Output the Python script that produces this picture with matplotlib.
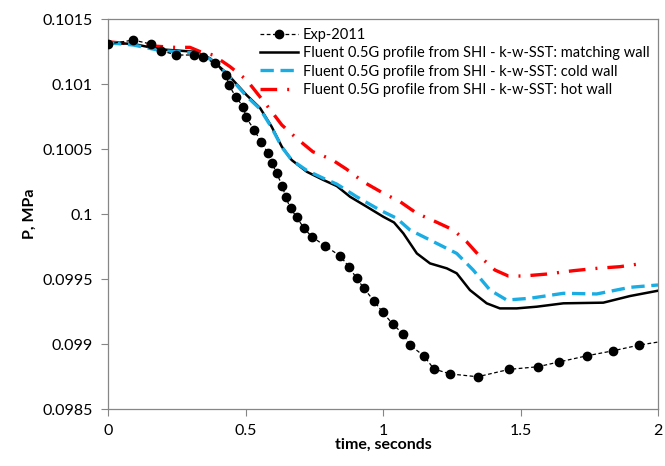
import numpy as np
import matplotlib
matplotlib.use('Agg')
import matplotlib.pyplot as plt

plt.rcParams['font.family'] = ['Lato', 'DejaVu Sans']

# experimental points (time s, pressure MPa)
exp_t = [0.0, 0.092, 0.155, 0.193, 0.248, 0.312, 0.347, 0.389, 0.429, 0.44, 0.464,
         0.492, 0.502, 0.532, 0.556, 0.581, 0.597, 0.613, 0.634, 0.646, 0.664,
         0.686, 0.713, 0.741, 0.789, 0.844, 0.876, 0.904, 0.931, 0.967, 0.999,
         1.035, 1.074, 1.098, 1.149, 1.185, 1.244, 1.344, 1.459, 1.563, 1.64,
         1.743, 1.837, 1.932, 2.0]
exp_p = [0.101308, 0.101338, 0.101308, 0.101256, 0.101223, 0.101223, 0.101205,
         0.101159, 0.101069, 0.100992, 0.100902, 0.100825, 0.100744, 0.100646,
         0.100556, 0.100472, 0.10039, 0.100313, 0.100218, 0.100128, 0.100044,
         0.099975, 0.09989, 0.099825, 0.099756, 0.099677, 0.099595, 0.099505,
         0.099428, 0.099331, 0.099244, 0.099154, 0.099075, 0.098992, 0.098908,
         0.098808, 0.09877, 0.098748, 0.098805, 0.098825, 0.098862, 0.09891,
         0.098948, 0.098992, 0.099015]

# matching wall
match_t = [0.0, 0.092, 0.189, 0.31, 0.371, 0.432, 0.504, 0.553, 0.595, 0.632, 0.668,
           0.723, 0.783, 0.832, 0.88, 0.941, 1.001, 1.04, 1.074, 1.123, 1.171,
           1.232, 1.268, 1.316, 1.377, 1.425, 1.486, 1.559, 1.656, 1.801, 1.898, 2.0]
match_p = [0.101318, 0.101308, 0.101267, 0.101249, 0.101198, 0.101082, 0.100915,
           0.100815, 0.100672, 0.100518, 0.100415, 0.100325, 0.100262, 0.100215,
           0.100133, 0.100056, 0.099979, 0.099935, 0.099851, 0.099697, 0.09962,
           0.099582, 0.099544, 0.099415, 0.099313, 0.099274, 0.099274, 0.099287,
           0.099313, 0.099318, 0.099369, 0.09941]

# cold wall
cold_t = [0.0, 0.092, 0.189, 0.31, 0.371, 0.432, 0.504, 0.553, 0.595, 0.632, 0.668,
          0.723, 0.783, 0.832, 0.904, 0.989, 1.05, 1.098, 1.171, 1.268, 1.328,
          1.389, 1.45, 1.535, 1.656, 1.777, 1.898, 2.0]
cold_p = [0.101318, 0.1013, 0.101258, 0.10124, 0.101192, 0.101078, 0.100905,
          0.100808, 0.100665, 0.100515, 0.100415, 0.100335, 0.100275, 0.10023,
          0.100133, 0.10003, 0.099967, 0.099877, 0.0998, 0.099697, 0.099569,
          0.099415, 0.099338, 0.099352, 0.09939, 0.099385, 0.099436, 0.099454]

# hot wall
hot_t = [0.0, 0.164, 0.244, 0.298, 0.335, 0.382, 0.444, 0.504, 0.589, 0.632, 0.686,
         0.745, 0.813, 0.868, 0.928, 1.001, 1.062, 1.123, 1.183, 1.256, 1.304,
         1.353, 1.407, 1.456, 1.51, 1.595, 1.692, 1.777, 1.862, 1.928]
hot_p = [0.101325, 0.101292, 0.101282, 0.101282, 0.101249, 0.101223, 0.101133,
         0.101031, 0.100805, 0.100685, 0.100582, 0.100479, 0.10042, 0.100344,
         0.100248, 0.10016, 0.100095, 0.100005, 0.099949, 0.099877, 0.099787,
         0.099672, 0.099569, 0.099523, 0.099523, 0.099538, 0.099564, 0.099582,
         0.099595, 0.099615]

labels = ['Exp-2011',
          'Fluent 0.5G profile from SHI - k-w-SST: matching wall',
          'Fluent 0.5G profile from SHI - k-w-SST: cold wall',
          'Fluent 0.5G profile from SHI - k-w-SST: hot wall']

fig = plt.figure(figsize=(6.65, 4.66), dpi=100)
ax = fig.add_axes([0.1624, 0.1223, 0.8271, 0.8369])

ax.plot(exp_t, exp_p, color='black', lw=0.9, ls=(0, (3, 2)), marker='o', ms=6,
        markevery=list(range(len(exp_t) - 1)), label=labels[0], zorder=5)
ax.plot(match_t, match_p, color='black', lw=1.8, label=labels[1], zorder=3)
ax.plot(cold_t, cold_p, color='#1AADE4', lw=2.4, ls=(0, (4, 2)), label=labels[2], zorder=4)
ax.plot(hot_t, hot_p, color='#FF0000', lw=2.4, ls=(0, (5, 3, 0.6, 3)), label=labels[3], zorder=2)

ax.set_xlim(0, 2)
ax.set_ylim(0.0985, 0.1015)
ax.set_xticks([0, 0.5, 1, 1.5, 2])
ax.set_xticklabels(['0', '0.5', '1', '1.5', '2'])
ax.set_yticks([0.0985, 0.099, 0.0995, 0.1, 0.1005, 0.101, 0.1015])
ax.set_yticklabels(['0.0985', '0.099', '0.0995', '0.1', '0.1005', '0.101', '0.1015'])
ax.tick_params(direction='out', length=5, color='#868686', labelsize=11.5, pad=6)
for s in ax.spines.values():
    s.set_color('#868686')
    s.set_linewidth(0.9)

ax.set_xlabel('time, seconds', fontsize=11.5, fontweight='bold', labelpad=0)
ax.set_ylabel('P, MPa', fontsize=11.5, fontweight='bold', labelpad=4)

ax.legend(loc='upper right', frameon=False, fontsize=10.5, handlelength=2.6,
          handletextpad=0.3, labelspacing=0.3, borderaxespad=0.2,
          bbox_to_anchor=(1.0, 1.0))

fig.savefig('out.png', dpi=100)
